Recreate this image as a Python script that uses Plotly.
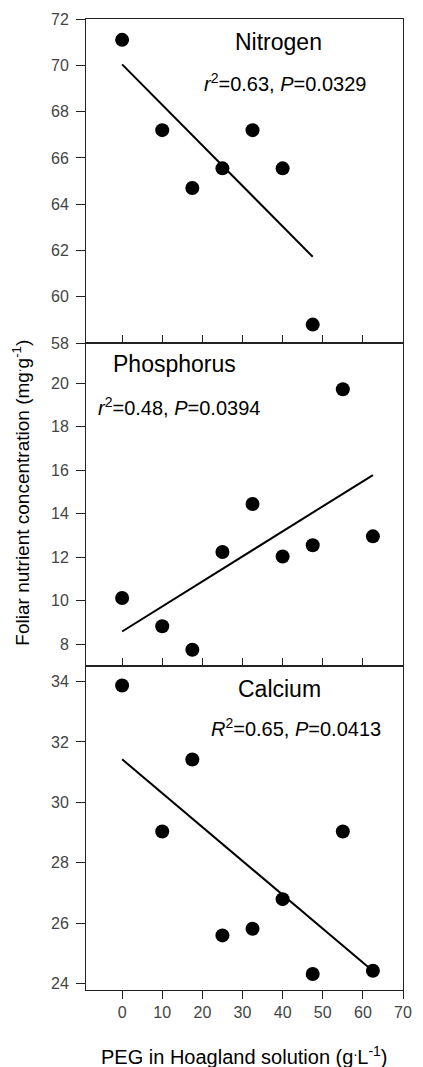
import numpy as np
import plotly.graph_objects as go

# ---- data ----
peg_n = [0, 10, 17.5, 25, 32.5, 40, 47.5]
nitrogen = [71.1, 67.2, 64.7, 65.55, 67.2, 65.55, 58.8]

peg_p = [0, 10, 17.5, 25, 32.5, 40, 47.5, 55, 62.5]
phosphorus = [10.12, 8.82, 7.74, 12.24, 14.45, 12.03, 12.55, 19.73, 12.96]

peg_ca = [0, 10, 17.5, 25, 32.5, 40, 47.5, 55, 62.5]
calcium = [33.87, 29.03, 31.42, 25.59, 25.81, 26.79, 24.31, 29.03, 24.42]

x_ticks = [0, 10, 20, 30, 40, 50, 60, 70]
n_ticks = [58, 60, 62, 64, 66, 68, 70, 72]
p_ticks = [8, 10, 12, 14, 16, 18, 20]
ca_ticks = [24, 26, 28, 30, 32, 34]

panel_names = ["Nitrogen", "Phosphorus", "Calcium"]
panel_stats = ["<i>r</i><sup>2</sup>=0.63, <i>P</i>=0.0329",
               "<i>r</i><sup>2</sup>=0.48, <i>P</i>=0.0394",
               "<i>R</i><sup>2</sup>=0.65, <i>P</i>=0.0413"]

FONT = "Liberation Sans, Arial, sans-serif"

fig = go.Figure()

series = [(peg_n, nitrogen, "x", "y"),
          (peg_p, phosphorus, "x2", "y2"),
          (peg_ca, calcium, "x3", "y3")]

for xs, ys, xa, ya in series:
    fig.add_trace(go.Scatter(x=xs, y=ys, mode="markers", xaxis=xa, yaxis=ya,
                             marker=dict(size=14, color="black"),
                             showlegend=False))
    slope, intercept = np.polyfit(xs, ys, 1)
    xl = [min(xs), max(xs)]
    yl = [intercept + slope * v for v in xl]
    fig.add_trace(go.Scatter(x=xl, y=yl, mode="lines", xaxis=xa, yaxis=ya,
                             line=dict(color="black", width=2),
                             showlegend=False))

d3 = [0.0, 0.3338]
d2 = [0.3338, 0.6662]
d1 = [0.6662, 1.0]

xcommon = dict(range=[-9, 70], tickvals=x_ticks, showline=True, mirror=True,
               linecolor="#222", linewidth=1, showgrid=False, zeroline=False,
               ticklen=8, tickcolor="#222")
ycommon = dict(showline=True, mirror=True, linecolor="#222", linewidth=1,
               showgrid=False, zeroline=False, ticks="outside", ticklen=9,
               tickcolor="#222", ticklabelstandoff=4,
               tickfont=dict(family=FONT, size=16, color="#444"))

fig.update_layout(
    width=423, height=1067,
    margin=dict(l=86, r=11, t=19, b=77),
    paper_bgcolor="white", plot_bgcolor="white",
    font=dict(family=FONT, color="black"),
    xaxis=dict(xcommon, anchor="y", ticks="inside", showticklabels=False, matches="x3"),
    xaxis2=dict(xcommon, anchor="y2", ticks="inside", showticklabels=False, matches="x3"),
    xaxis3=dict(xcommon, anchor="y3", ticks="outside",
                tickfont=dict(family=FONT, size=16, color="#444")),
    yaxis=dict(ycommon, domain=d1, anchor="x", range=[58, 72], tickvals=n_ticks),
    yaxis2=dict(ycommon, domain=d2, anchor="x2", range=[7, 21.85], tickvals=p_ticks),
    yaxis3=dict(ycommon, domain=d3, anchor="x3", range=[23.78, 34.52], tickvals=ca_ticks),
)

ann = [
    dict(text=panel_names[0], x=39.0, y=71.02, xref="x", yref="y", size=23),
    dict(text=panel_stats[0], x=40.5, y=69.24, xref="x", yref="y", size=20),
    dict(text=panel_names[1], x=13.0, y=20.87, xref="x2", yref="y2", size=23),
    dict(text=panel_stats[1], x=14.2, y=18.93, xref="x2", yref="y2", size=20),
    dict(text=panel_names[2], x=39.2, y=33.76, xref="x3", yref="y3", size=23),
    dict(text=panel_stats[2], x=43.3, y=32.47, xref="x3", yref="y3", size=20),
]
for a in ann:
    fig.add_annotation(text=a["text"], x=a["x"], y=a["y"], xref=a["xref"], yref=a["yref"],
                       showarrow=False, xanchor="center", yanchor="middle",
                       font=dict(family=FONT, size=a["size"], color="black"))

fig.add_annotation(text="PEG in Hoagland solution (g<sup>.</sup>L<sup>-1</sup>)",
                   x=0.5, y=-0.067, xref="paper", yref="paper", showarrow=False,
                   xanchor="center", yanchor="middle",
                   font=dict(family=FONT, size=20, color="black"))
fig.add_annotation(text="Foliar nutrient concentration (mg<sup>.</sup>g<sup>-1</sup>)",
                   x=-0.2057, y=0.512, xref="paper", yref="paper", showarrow=False,
                   xanchor="center", yanchor="middle", textangle=-90,
                   font=dict(family=FONT, size=19, color="black"))

fig.write_html("out.html", config={"displayModeBar": False},
               post_script="document.body.style.margin='0';document.body.style.padding='0';")
